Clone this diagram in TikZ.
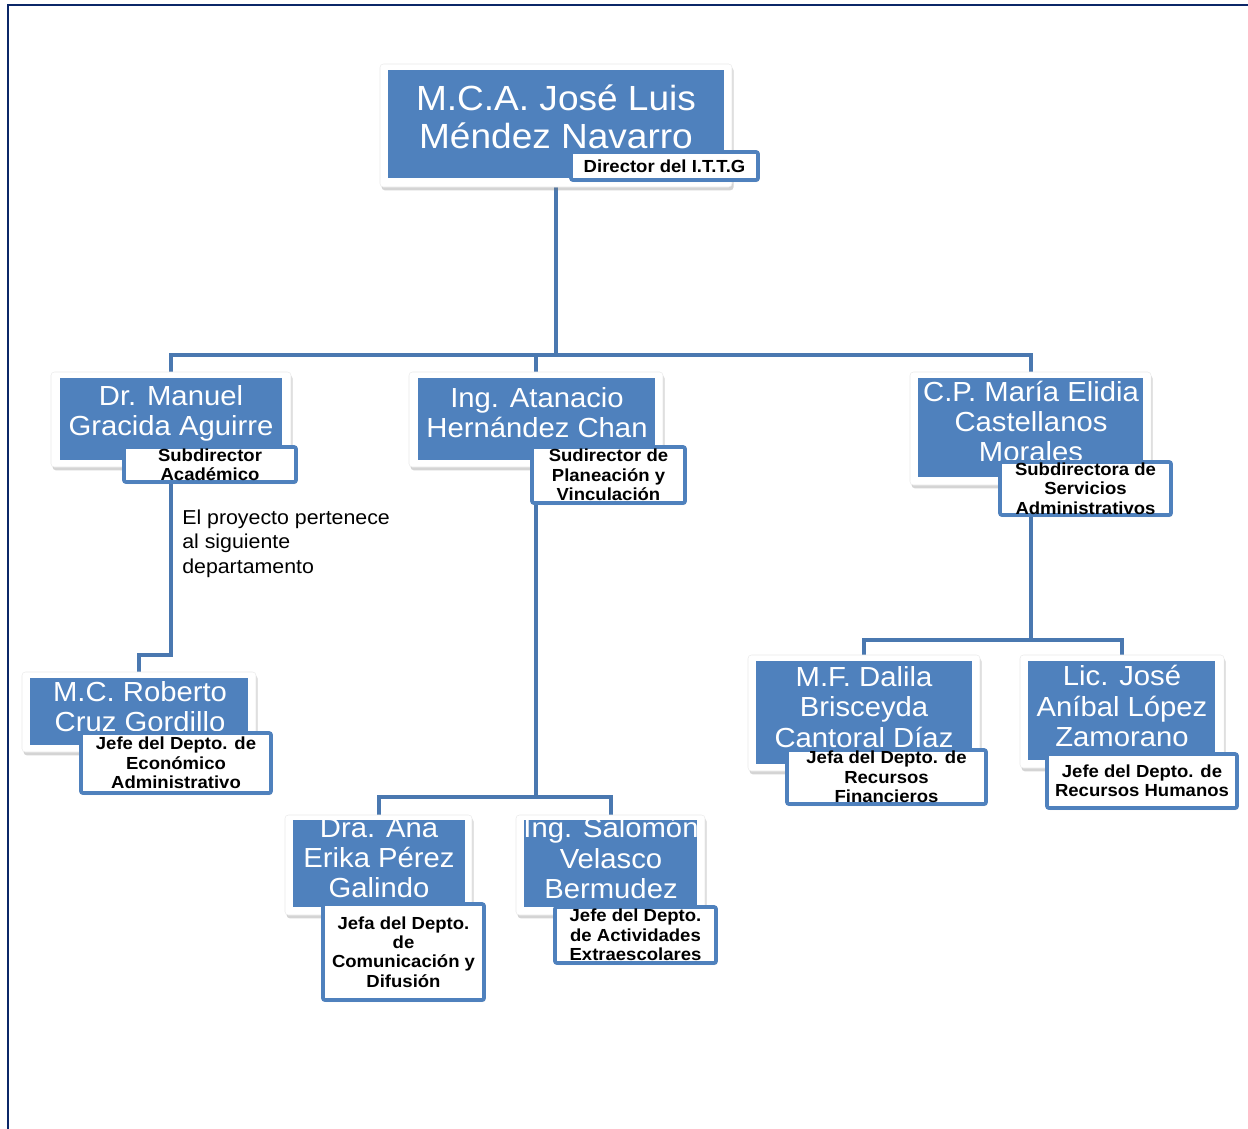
\documentclass[tikz,border=0pt]{standalone}
\usepackage{fontspec}
\setmainfont{Liberation Sans}[FakeStretch=1.06]
\usetikzlibrary{fit,shadows,backgrounds}

\definecolor{frameblue}{HTML}{0B2768}
\definecolor{boxblue}{HTML}{4F81BD}
\definecolor{linkblue}{HTML}{4A78B0}

\newcommand\fsTop{\fontsize{26.2}{28.5}\selectfont}
\newcommand\fsName{\fontsize{20.7}{22.6}\selectfont}
\newcommand\fsRole{\bfseries\fontsize{13.1}{14.6}\selectfont}
\newcommand\fsNote{\fontsize{15.1}{18.4}\selectfont}

\tikzset{
  card/.style={draw=black!8, fill=white, rounded corners=2.5pt, inner sep=0pt, line width=0.4pt,
    drop shadow={shadow xshift=1.2pt, shadow yshift=-2.5pt, opacity=0.3, fill=black!55}},
  plate/.style={fill=boxblue, inner sep=0pt},
  role/.style={draw=boxblue, line width=2.8pt, fill=white, rounded corners=1.5pt, inner sep=0pt,
    drop shadow={shadow xshift=0.8pt, shadow yshift=-1.5pt, opacity=0.2, fill=black!50}},
  nametext/.style={text=white, align=center, inner sep=0pt, font=\fsName},
  roletext/.style={text=black, align=center, inner sep=0pt, font=\fsRole},
  link/.style={draw=linkblue, line width=3pt, line join=miter},
}

\begin{document}
\begin{tikzpicture}[x=0.75pt, y=-0.75pt]
\useasboundingbox (0,0) rectangle (1248,1128);

% page frame
\draw[frameblue, line width=2.2pt] (8,1132) -- (8,5) -- (1252,5);

% ---- Director
\node[card, fit={(380,64)(732,187)}] (ctop) {};
\node[plate, fit={(388,70)(724,178)}] (ptop) {};
\begin{scope}
  \clip (388,70) rectangle (724,150);
  \node[nametext, font=\fsTop] (ntop) at (556,117) {M.C.A. José Luis\\Méndez Navarro};
\end{scope}
\node[role, fit={(571,152)(758,180)}] (rtop) {};
\node[roletext] (ltop) at (rtop.center) {Director del I.T.T.G};

% ---- Subdirector Académico
\node[card, fit={(51,372)(291,467)}] (cacad) {};
\node[plate, fit={(60,378)(282,460)}] (pacad) {};
\begin{scope}
  \clip (60,378) rectangle (282,445);
  \node[nametext] (nacad) at (171,413) {Dr. Manuel\\Gracida Aguirre};
\end{scope}
\node[role, fit={(124,447)(296,482)}] (racad) {};
\node[roletext] (lacad) at (racad.center) {Subdirector\\Académico};

% ---- Subdirector de Planeación
\node[card, fit={(409,372)(663,467)}] (cplan) {};
\node[plate, fit={(418,378)(655,460)}] (pplan) {};
\begin{scope}
  \clip (418,378) rectangle (655,445);
  \node[nametext] (nplan) at (537,413) {Ing. Atanacio\\Hernández Chan};
\end{scope}
\node[role, fit={(532,447)(685,503)}] (rplan) {};
\node[roletext] (lplan) at (rplan.center) {Sudirector de\\Planeación y\\Vinculación};

% ---- Subdirectora de Servicios Administrativos
\node[card, fit={(910,372)(1151,485)}] (cadm) {};
\node[plate, fit={(918,378)(1143,477)}] (padm) {};
\begin{scope}
  \clip (918,378) rectangle (1143,460);
  \node[nametext] (nadm) at (1031,421.5) {C.P. María Elidia\\Castellanos\\Morales};
\end{scope}
\node[role, fit={(1000,462)(1171,515)}] (radm) {};
\node[roletext] (ladm) at (radm.center) {Subdirectora de\\Servicios\\Administrativos};

% ---- Económico Administrativo
\node[card, fit={(22,672)(256,752)}] (ceco) {};
\node[plate, fit={(30,678)(248,745)}] (peco) {};
\begin{scope}
  \clip (30,678) rectangle (248,731);
  \node[nametext] (neco) at (140,706.5) {M.C. Roberto\\Cruz Gordillo};
\end{scope}
\node[role, fit={(81,733)(271,793)}] (reco) {};
\node[roletext] (leco) at (reco.center) {Jefe del Depto. de\\Económico\\Administrativo};

% ---- Comunicación y Difusión
\node[card, fit={(285,815)(472,915)}] (ccom) {};
\node[plate, fit={(293,820)(465,907)}] (pcom) {};
\begin{scope}
  \clip (293,820) rectangle (465,902);
  \node[nametext] (ncom) at (379,858) {Dra. Ana\\Erika Pérez\\Galindo};
\end{scope}
\node[role, fit={(323,904)(484,1000)}] (rcom) {};
\node[roletext] (lcom) at (rcom.center) {Jefa del Depto.\\de\\Comunicación y\\Difusión};

% ---- Actividades Extraescolares
\node[card, fit={(516,815)(705,915)}] (cext) {};
\node[plate, fit={(524,820)(697,907)}] (pext) {};
\begin{scope}
  \clip (524,820) rectangle (697,905);
  \node[nametext] (next) at (611,858) {Ing. Salomón\\Velasco\\Bermudez};
\end{scope}
\node[role, fit={(555,907)(716,963)}] (rext) {};
\node[roletext] (lext) at (rext.center) {Jefe del Depto.\\de Actividades\\Extraescolares};

% ---- Recursos Financieros
\node[card, fit={(748,655)(980,771)}] (cfin) {};
\node[plate, fit={(756,661)(972,764)}] (pfin) {};
\begin{scope}
  \clip (756,661) rectangle (972,748);
  \node[nametext] (nfin) at (864,707) {M.F. Dalila\\Brisceyda\\Cantoral Díaz};
\end{scope}
\node[role, fit={(787,750)(986,804)}] (rfin) {};
\node[roletext] (lfin) at (rfin.center) {Jefa del Depto. de\\Recursos\\Financieros};

% ---- Recursos Humanos
\node[card, fit={(1020,655)(1224,768)}] (chum) {};
\node[plate, fit={(1028,661)(1215,760)}] (phum) {};
\begin{scope}
  \clip (1028,661) rectangle (1215,752);
  \node[nametext] (nhum) at (1122,706) {Lic. José\\Aníbal López\\Zamorano};
\end{scope}
\node[role, fit={(1047,754)(1237,808)}] (rhum) {};
\node[roletext] (lhum) at (rhum.center) {Jefe del Depto. de\\Recursos Humanos};

% note beside the academic branch
\node[anchor=west, align=left, inner sep=0pt, font=\fsNote] (note) at (182,543.5)
  {El proyecto pertenece\\al siguiente\\departamento};

% ---- connectors, behind the boxes
\begin{scope}[on background layer]
  \fill[white] (0,0) rectangle (1248,1128);
  \coordinate (busA) at (0,355);
  \coordinate (busB) at (0,655);
  \coordinate (busC) at (0,797);
  \coordinate (busD) at (0,640);
  \draw[link] (ctop.center) -- (ctop.center |- busA) -| (cacad.center);
  \draw[link] (ctop.center |- busA) -| (cplan.center);
  \draw[link] (ctop.center |- busA) -| (cadm.center);
  \draw[link] (cacad.center) -- (cacad.center |- busB) -| (ceco.center);
  \draw[link] (cplan.center) -- (cplan.center |- busC) -| (ccom.center);
  \draw[link] (cplan.center |- busC) -| (cext.center);
  \draw[link] (cadm.center) -- (cadm.center |- busD) -| (cfin.center);
  \draw[link] (cadm.center |- busD) -| (chum.center);
\end{scope}
\end{tikzpicture}
\end{document}
